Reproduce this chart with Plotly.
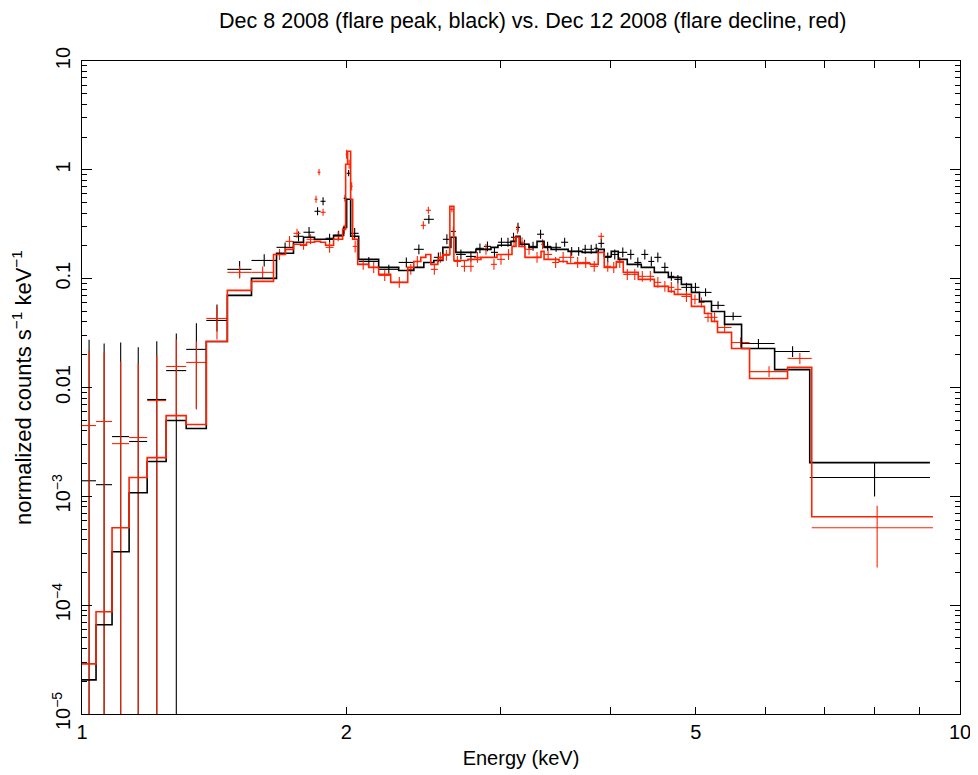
import plotly.graph_objects as go

# ---- black: Dec 8 2008 (flare peak) ----
blk_edges = [1.000, 1.0375, 1.082, 1.1315, 1.1864, 1.2469, 1.3143, 1.3854, 1.4640, 1.5597,
             1.6655, 1.7413, 1.7877, 1.8401, 1.8694, 1.8941, 1.9344, 1.9860, 2.0017, 2.0229,
             2.0659, 2.1772, 2.2946, 2.3874, 2.4509, 2.5161, 2.5763, 2.6310, 2.6658, 2.7366,
             2.8095, 2.8692, 2.9226, 2.9768, 3.0321, 3.0803, 3.1210, 3.1540, 3.2295, 3.2981,
             3.3594, 3.4218, 3.5130, 3.5783, 3.6448, 3.7125, 3.7715, 3.8315, 3.8720, 3.9336,
             4.0067, 4.0811, 4.1786, 4.2560, 4.3351, 4.4156, 4.4858, 4.5692, 4.6541, 4.7281,
             4.8159, 4.9443, 5.0495, 5.2117, 5.3930, 5.6391, 6.1499, 6.7430, 9.2420]
blk_model = [2.06e-5, 6.6e-5, 3.1e-4, 1.08e-3, 2.09e-3, 4.97e-3, 4.20e-3, 0.0265, 0.0702, 0.1006,
             0.171, 0.216, 0.240, 0.230, 0.230, 0.230, 0.250, 0.296, 0.536, 0.245,
             0.1505, 0.127, 0.119, 0.127, 0.141, 0.147, 0.194, 0.240, 0.1745, 0.1745,
             0.186, 0.186, 0.194, 0.2025, 0.2025, 0.220, 0.245, 0.207, 0.194, 0.220,
             0.194, 0.186, 0.186, 0.178, 0.178, 0.1745, 0.1745, 0.1745, 0.186, 0.160,
             0.178, 0.1505, 0.1354, 0.1354, 0.127, 0.127, 0.1143, 0.1143, 0.1028, 0.1028,
             0.0886, 0.0748, 0.0618, 0.0500, 0.0380, 0.0228, 0.0146, 2.04e-3]
blk_data = [1.39e-3, 1.28e-3, 3.54e-3, 3.19e-3, 7.76e-3, 0.0143, 0.0224, 0.0413, 0.1218, 0.147,
            0.194, 0.245, 0.267, 0.416, 0.514, 0.235, 0.250, 0.548, 0.930, 0.261,
            0.144, 0.1218, 0.141, 0.186, 0.351, 0.157, 0.230, 0.272, 0.167, 0.160,
            0.190, 0.198, 0.1745, 0.216, 0.216, 0.240, 0.296, 0.207, 0.198, 0.256,
            0.198, 0.194, 0.216, 0.178, 0.178, 0.186, 0.186, 0.190, 0.211, 0.157,
            0.167, 0.1745, 0.167, 0.141, 0.167, 0.144, 0.157, 0.127, 0.105, 0.0985,
            0.0832, 0.0832, 0.0748, 0.0568, 0.0450, 0.0254, 0.0214, 1.49e-3]
# fractional error bars (upper / lower)
blk_eup = [18.8, 18.8, 6.33, 6.33, 2.42, 1.19, 0.735, 0.40, 0.19, 0.14,
           0.11, 0.11, 0.12, 0.09, 0.09, 0.10, 0.10, 0.08, 0.07, 0.12,
           0.10, 0.10, 0.11, 0.11, 0.10, 0.11, 0.11, 0.10, 0.11, 0.11,
           0.11, 0.11, 0.11, 0.10, 0.10, 0.10, 0.10, 0.10, 0.10, 0.10,
           0.10, 0.10, 0.10, 0.10, 0.10, 0.10, 0.10, 0.10, 0.10, 0.11,
           0.11, 0.11, 0.11, 0.11, 0.11, 0.11, 0.11, 0.11, 0.10, 0.10,
           0.10, 0.10, 0.09, 0.09, 0.09, 0.10, 0.12, 0.37]
blk_edn = [0.99999, 0.99999, 0.99999, 0.99999, 0.99999, 0.99999, 0.713, 0.21, 0.16, 0.12,
           0.10, 0.10, 0.11, 0.08, 0.08, 0.09, 0.09, 0.07, 0.06, 0.11,
           0.09, 0.09, 0.10, 0.10, 0.09, 0.10, 0.10, 0.09, 0.10, 0.10,
           0.10, 0.10, 0.10, 0.09, 0.09, 0.09, 0.09, 0.09, 0.09, 0.09,
           0.09, 0.09, 0.09, 0.09, 0.09, 0.09, 0.09, 0.09, 0.09, 0.10,
           0.10, 0.10, 0.10, 0.10, 0.10, 0.10, 0.10, 0.10, 0.09, 0.09,
           0.09, 0.09, 0.08, 0.08, 0.08, 0.09, 0.11, 0.33]

# ---- red: Dec 12 2008 (flare decline) ----
red_edges = [1.000, 1.0375, 1.082, 1.1315, 1.1864, 1.2469, 1.3143, 1.3854, 1.4640, 1.5597,
             1.6524, 1.7052, 1.7413, 1.7737, 1.8019, 1.8401, 1.8547, 1.8694, 1.8941, 1.9344,
             1.9808, 1.9964, 2.0069, 2.0229, 2.0336, 2.0605, 2.1208, 2.1772, 2.2469, 2.3496,
             2.3874, 2.4316, 2.4638, 2.4964, 2.5427, 2.5763, 2.6241, 2.6519, 2.7012, 2.7513,
             2.7948, 2.8469, 2.9226, 2.9690, 3.0321, 3.0885, 3.1210, 3.1457, 3.1958, 3.2636,
             3.3329, 3.3594, 3.4308, 3.4946, 3.5689, 3.6353, 3.7028, 3.7914, 3.8720, 3.9336,
             4.0067, 4.0597, 4.1351, 4.2226, 4.3010, 4.3924, 4.4858, 4.5692, 4.6541, 4.7281,
             4.8159, 4.9443, 5.0362, 5.1163, 5.2117, 5.2946, 5.4931, 5.7587, 6.3623, 6.7785,
             9.3153]
red_model = [2.89e-5, 8.7e-5, 5.15e-4, 1.49e-3, 2.27e-3, 5.52e-3, 4.57e-3, 0.0265, 0.0781, 0.0945,
             0.167, 0.186, 0.207, 0.2025, 0.216, 0.220, 0.220, 0.216, 0.2025, 0.230,
             0.284, 1.126, 1.483, 0.536, 0.230, 0.1354, 0.127, 0.1095, 0.0925, 0.127,
             0.144, 0.157, 0.167, 0.1354, 0.1505, 0.167, 0.4625, 0.147, 0.147, 0.1505,
             0.1505, 0.157, 0.157, 0.167, 0.167, 0.198, 0.240, 0.198, 0.157, 0.157,
             0.178, 0.1505, 0.1505, 0.144, 0.138, 0.138, 0.138, 0.1354, 0.1745, 0.127,
             0.127, 0.144, 0.1143, 0.1143, 0.0985, 0.0985, 0.0850, 0.0850, 0.0764, 0.0717,
             0.0717, 0.0556, 0.0556, 0.0479, 0.0405, 0.0321, 0.0228, 0.0121, 0.0153, 6.5e-4]
red_data = [4.47e-3, 4.87e-3, 3.05e-3, 3.47e-3, 7.59e-3, 0.0156, 0.0170, 0.0431, 0.1143, 0.1143,
            0.167, 0.220, 0.261, 0.207, 0.230, 0.536, 0.950, 0.407, 0.194, 0.245,
            0.284, 1.392, 1.126, 0.707, 0.198, 0.1354, 0.127, 0.1072, 0.0925, 0.1218,
            0.144, 0.309, 0.425, 0.1218, 0.157, 0.164, 0.434, 0.144, 0.1298, 0.1298,
            0.157, 0.186, 0.1354, 0.1505, 0.167, 0.220, 0.284, 0.216, 0.186, 0.157,
            0.207, 0.167, 0.141, 0.157, 0.157, 0.141, 0.141, 0.1298, 0.245, 0.1298,
            0.127, 0.141, 0.1095, 0.1095, 0.105, 0.105, 0.0925, 0.0850, 0.0832, 0.0797,
            0.0687, 0.0645, 0.0605, 0.0441, 0.0441, 0.0356, 0.0259, 0.0140, 0.0185, 5.15e-4]
red_eup = [3.9, 3.31, 4.68, 3.80, 1.59, 0.77, 0.56, 0.29, 0.14, 0.13,
           0.12, 0.12, 0.10, 0.12, 0.11, 0.08, 0.07, 0.08, 0.12, 0.11,
           0.10, 0.10, 0.10, 0.09, 0.13, 0.12, 0.12, 0.12, 0.12, 0.12,
           0.12, 0.09, 0.08, 0.12, 0.12, 0.12, 0.07, 0.12, 0.12, 0.12,
           0.12, 0.12, 0.12, 0.12, 0.12, 0.11, 0.10, 0.11, 0.12, 0.12,
           0.11, 0.12, 0.12, 0.12, 0.12, 0.12, 0.12, 0.12, 0.08, 0.12,
           0.12, 0.12, 0.12, 0.12, 0.12, 0.12, 0.12, 0.12, 0.12, 0.12,
           0.12, 0.11, 0.11, 0.11, 0.11, 0.11, 0.11, 0.12, 0.12, 0.59]
red_edn = [0.99999, 0.99999, 0.99999, 0.99999, 0.99999, 0.675, 0.63, 0.36, 0.12, 0.12,
           0.11, 0.11, 0.09, 0.11, 0.10, 0.07, 0.06, 0.07, 0.11, 0.10,
           0.09, 0.09, 0.09, 0.08, 0.12, 0.11, 0.11, 0.11, 0.11, 0.11,
           0.11, 0.08, 0.07, 0.11, 0.11, 0.11, 0.06, 0.11, 0.11, 0.11,
           0.11, 0.11, 0.11, 0.11, 0.11, 0.10, 0.09, 0.10, 0.11, 0.11,
           0.10, 0.11, 0.11, 0.11, 0.11, 0.11, 0.11, 0.11, 0.07, 0.11,
           0.11, 0.11, 0.11, 0.11, 0.11, 0.11, 0.11, 0.11, 0.11, 0.11,
           0.11, 0.10, 0.10, 0.10, 0.10, 0.10, 0.10, 0.11, 0.11, 0.57]

x_ticks = [1, 2, 5, 10]
x_ticktext = ["1", "2", "5", "10"]
x_minor = [3, 4, 6, 7, 8, 9]
y_ticks = [1e-5, 1e-4, 1e-3, 1e-2, 1e-1, 1, 10]
y_ticktext = ["10<sup>−5</sup>", "10<sup>−4</sup>", "10<sup>−3</sup>", "0.01", "0.1", "1", "10"]

BLACK = "#000000"
RED = "#ff2200"
FONT = "Liberation Sans, Arial, sans-serif"

for arrs in [(blk_model, blk_data, blk_eup, blk_edn), (red_model, red_data, red_eup, red_edn)]:
    assert len(set(len(a) for a in arrs)) == 1
assert len(blk_edges) == len(blk_model) + 1
assert len(red_edges) == len(red_model) + 1

fig = go.Figure()


def add_data(edges, vals, eup, edn, color):
    lo, hi = edges[:-1], edges[1:]
    xc = [(a + b) / 2 for a, b in zip(lo, hi)]
    fig.add_trace(go.Scatter(
        x=xc, y=vals, mode="markers",
        marker=dict(size=1, color=color),
        error_x=dict(type="data", symmetric=False,
                     array=[b - c for b, c in zip(hi, xc)],
                     arrayminus=[c - a for a, c in zip(lo, xc)],
                     color=color, thickness=1.1, width=0),
        error_y=dict(type="data", symmetric=False,
                     array=[v * f for v, f in zip(vals, eup)],
                     arrayminus=[v * f for v, f in zip(vals, edn)],
                     color=color, thickness=1.1, width=0),
        showlegend=False, hoverinfo="skip",
    ))


def add_model(edges, vals, color):
    fig.add_trace(go.Scatter(
        x=edges, y=list(vals) + [vals[-1]], mode="lines",
        line=dict(color=color, width=1.6, shape="hv"),
        showlegend=False, hoverinfo="skip",
    ))


add_data(blk_edges, blk_data, blk_eup, blk_edn, BLACK)
add_data(red_edges, red_data, red_eup, red_edn, RED)
add_model(blk_edges, blk_model, BLACK)
add_model(red_edges, red_model, RED)

axis_common = dict(
    showline=True, linecolor="black", linewidth=1.2, mirror="allticks",
    ticks="inside", tickcolor="black", showgrid=False, zeroline=False,
    automargin=False,
    tickfont=dict(family=FONT, size=20, color="black"),
)

fig.update_xaxes(
    type="log", range=[0, 1], tickvals=x_ticks, ticktext=x_ticktext,
    ticklen=7, tickwidth=1,
    minor=dict(tickmode="array", tickvals=x_minor, ticks="inside", ticklen=7,
               tickcolor="black", showgrid=False),
    title=dict(text="Energy (keV)", font=dict(family=FONT, size=20, color="black"), standoff=8),
    **axis_common,
)
fig.update_yaxes(
    type="log", range=[-5, 1], tickvals=y_ticks, ticktext=y_ticktext,
    ticklen=10, tickwidth=1, tickangle=-90, ticklabelstandoff=3,
    minor=dict(ticks="inside", ticklen=5, tickcolor="black", dtick="D1", showgrid=False),
    title=dict(text="normalized counts s<sup>−1</sup> keV<sup>−1</sup>",
               font=dict(family=FONT, size=22, color="black"), standoff=12),
    **axis_common,
)

# page body adds an 8px offset, so the figure is shifted by that much
fig.update_layout(
    width=970, height=767,
    margin=dict(l=74, r=18, t=53, b=61),
    paper_bgcolor="white", plot_bgcolor="white",
    font=dict(family=FONT, color="black"),
    title=dict(text="Dec 8 2008 (flare peak, black) vs. Dec 12 2008 (flare decline, red)",
               x=0.541, xanchor="center", y=0.984, yanchor="middle",
               font=dict(family=FONT, size=21.5, color="black")),
)

fig.write_html("out.html")
